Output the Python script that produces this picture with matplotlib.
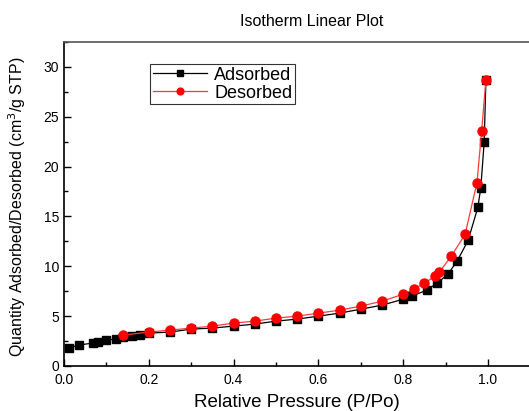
#!/usr/bin/env python3

import matplotlib
matplotlib.use("Agg")
import matplotlib.pyplot as plt
from matplotlib.ticker import MultipleLocator

plt.rcParams['font.family'] = ['Liberation Sans', 'DejaVu Sans']

# adsorption branch
p_ads = [0.012, 0.035, 0.068, 0.08, 0.10, 0.123, 0.14, 0.16, 0.18, 0.20, 0.25, 0.30,
	0.35, 0.40, 0.45, 0.50, 0.55, 0.60, 0.65, 0.70, 0.75, 0.80, 0.82, 0.855, 0.88,
	0.905, 0.927, 0.953, 0.976, 0.983, 0.991, 0.995]
q_ads = [1.8, 2.1, 2.3, 2.4, 2.6, 2.7, 2.9, 3.0, 3.1, 3.3, 3.4, 3.7,
	3.8, 4.0, 4.2, 4.5, 4.7, 5.0, 5.3, 5.7, 6.1, 6.7, 7.0, 7.6, 8.3,
	9.2, 10.5, 12.6, 15.9, 17.9, 22.5, 28.7]

# desorption branch
p_des = [0.995, 0.985, 0.974, 0.946, 0.913, 0.885, 0.875, 0.85, 0.825, 0.80, 0.75, 0.70,
	0.65, 0.60, 0.55, 0.50, 0.45, 0.40, 0.35, 0.30, 0.25, 0.20, 0.14]
q_des = [28.7, 23.6, 18.4, 13.2, 11.0, 9.4, 9.0, 8.3, 7.7, 7.2, 6.5, 6.0,
	5.6, 5.3, 5.0, 4.8, 4.5, 4.3, 4.0, 3.8, 3.6, 3.4, 3.1]

fig = plt.figure(figsize=(5.29, 4.11), dpi=100)
ax = fig.add_axes([0.121, 0.1095, 0.8817, 0.7885])

ax.plot(p_ads, q_ads, color='black', lw=0.9, marker='s', ms=5.5, label='Adsorbed')
ax.plot(p_des, q_des, color='#ff3a3a', lw=0.9, marker='o', ms=6.5,
	mfc='red', mec='red', label='Desorbed')

ax.set_xlim(0, 1.1)
ax.set_ylim(0, 32.5)
ax.xaxis.set_major_locator(MultipleLocator(0.2))
ax.xaxis.set_minor_locator(MultipleLocator(0.1))
ax.yaxis.set_major_locator(MultipleLocator(5))
ax.yaxis.set_minor_locator(MultipleLocator(2.5))
ax.tick_params(which='both', direction='in', labelsize=10, width=1)
ax.tick_params(which='major', length=5)
ax.tick_params(which='minor', length=3)
ax.tick_params(axis='x', pad=5)
ax.set_xticks([0.0, 0.2, 0.4, 0.6, 0.8, 1.0])
ax.set_xticklabels(['0.0', '0.2', '0.4', '0.6', '0.8', '1.0'])
for s in ax.spines.values():
	s.set_linewidth(1.2)
ax.spines['top'].set_color('#555555')

ax.set_xlabel('Relative Pressure (P/Po)', fontsize=13.5, labelpad=5)
ax.set_ylabel('Quantity Adsorbed/Desorbed (cm$^3$/g STP)', fontsize=11.5)
ax.yaxis.set_label_coords(-0.078, 0.49)

fig.text(0.59, 0.948, 'Isotherm Linear Plot', ha='center', va='center', fontsize=11.5)

leg = ax.legend(loc='upper left', bbox_to_anchor=(0.165, 0.96), fontsize=13,
	frameon=True, fancybox=False, edgecolor='black', handlelength=3.0,
	borderpad=0.15, labelspacing=0.05, handletextpad=0.4, markerscale=0.75)
leg.get_frame().set_linewidth(0.8)

fig.savefig('out.png', dpi=100)
